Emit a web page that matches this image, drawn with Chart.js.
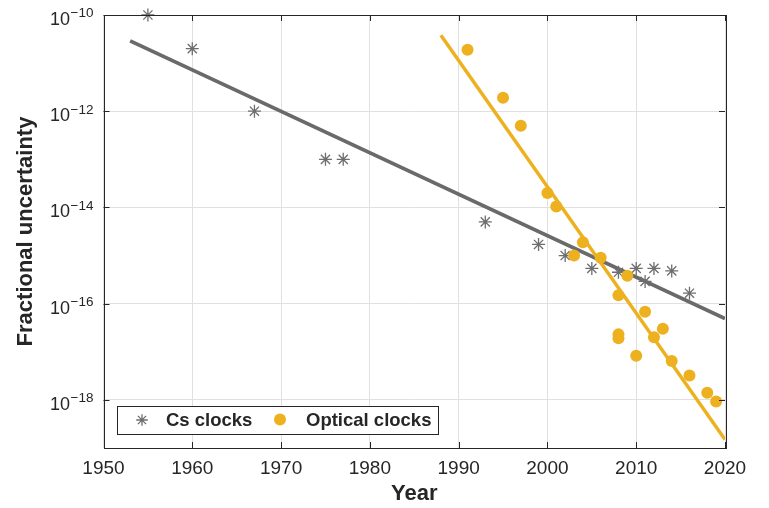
<!DOCTYPE html>
<html><head><meta charset="utf-8">
<script src="https://cdn.jsdelivr.net/npm/chart.js@4/dist/chart.umd.min.js"></script>
<style>html,body{margin:0;padding:0;background:#fff;}#wrap{width:769px;height:508px;}</style>
</head><body><div id="wrap"><canvas id="c" width="769" height="508"></canvas></div>
<script>
// ---- data ----
const csYears  = [1955, 1960, 1967, 1975, 1977, 1993, 1999, 2002, 2005, 2008, 2010, 2011, 2012, 2014, 2016];
const csValues = [1e-10, 2e-11, 1e-12, 1e-13, 1e-13, 5e-15, 1.7e-15, 1e-15, 5.4e-16, 4.5e-16, 5.4e-16, 2.9e-16, 5.4e-16, 4.8e-16, 1.65e-16];

const opticalYears  = [1991, 1995, 1997, 2000, 2001, 2003, 2004, 2006, 2008, 2008, 2008, 2009, 2010, 2011, 2012, 2013, 2014, 2016, 2018, 2019];
const opticalValues = [1.9e-11, 1.9e-12, 5e-13, 2e-14, 1.05e-14, 1e-15, 1.9e-15, 9e-16, 1.5e-16, 2.3e-17, 1.9e-17, 3.8e-16, 8.3e-18, 6.8e-17, 2e-17, 3e-17, 6.4e-18, 3.2e-18, 1.4e-18, 9.3e-19];

const csFitYears  = [1953, 2020];
const csFitValues = [2.9e-11, 4.9e-17];
const opticalFitYears  = [1988, 2020];
const opticalFitValues = [3.8e-11, 1.5e-19];

const seriesLabels = ['Cs clocks', 'Optical clocks'];
const yearTicks = [1950, 1960, 1970, 1980, 1990, 2000, 2010, 2020];
const yTickExponents = [-10, -12, -14, -16, -18];
const xTitle = 'Year';
const yTitle = 'Fractional uncertainty';

// ---- styling ----
const GRAY = '#6e6e6e';
const GRAYLINE = '#6a6a6a';
const YELLOW = '#EDB120';
const TEXT = '#262626';
const FONT = '"Liberation Sans", Arial, Helvetica, sans-serif';

const pts = (xs, ys) => xs.map((x, i) => ({x: x, y: ys[i]}));

const framePlugin = {
  id: 'frame',
  afterDraw(chart) {
    const ctx = chart.ctx, a = chart.chartArea;
    const xs = chart.scales.x, ys = chart.scales.y;
    ctx.save();
    // box
    ctx.strokeStyle = TEXT; ctx.lineWidth = 1;
    ctx.strokeRect(Math.round(a.left) + 0.5, Math.round(a.top) + 0.5, Math.round(a.right - a.left), Math.round(a.bottom - a.top));
    // inward ticks
    const tl = 6;
    ctx.beginPath();
    yearTicks.forEach(t => {
      const px = Math.round(xs.getPixelForValue(t)) + 0.5;
      ctx.moveTo(px, a.bottom); ctx.lineTo(px, a.bottom - tl);
      ctx.moveTo(px, a.top); ctx.lineTo(px, a.top + tl);
    });
    yTickExponents.forEach(e => {
      const py = Math.round(ys.getPixelForValue(Math.pow(10, e))) + 0.5;
      ctx.moveTo(a.left, py); ctx.lineTo(a.left + tl, py);
      ctx.moveTo(a.right, py); ctx.lineTo(a.right - tl, py);
    });
    ctx.stroke();
    // y tick labels: 10 with superscript exponent
    ctx.fillStyle = TEXT;
    ctx.textAlign = 'left'; ctx.textBaseline = 'alphabetic';
    yTickExponents.forEach(e => {
      const py = ys.getPixelForValue(Math.pow(10, e));
      const expText = '\u2212' + String(Math.abs(e));
      ctx.font = '13.5px ' + FONT;
      const ew = ctx.measureText(expText).width;
      ctx.font = '18px ' + FONT;
      const bw = ctx.measureText('10').width;
      const right = a.left - 10;
      ctx.fillText('10', right - ew - bw - 0.5, py + 10);
      ctx.font = '13.5px ' + FONT;
      ctx.fillText(expText, right - ew, py + 2.3);
    });
    // legend
    const lx = 117, ly = 406, lw = 321, lh = 28;
    ctx.fillStyle = '#ffffff';
    ctx.fillRect(lx, ly, lw, lh);
    ctx.strokeStyle = TEXT; ctx.lineWidth = 1;
    ctx.strokeRect(lx + 0.5, ly + 0.5, lw, lh);
    const cy = ly + lh / 2;
    // asterisk marker
    ctx.strokeStyle = GRAY; ctx.lineWidth = 1.3;
    ctx.beginPath();
    const r = 5.8, mx = 142;
    for (let k = 0; k < 4; k++) {
      const ang = k * Math.PI / 4;
      ctx.moveTo(mx - r * Math.cos(ang), cy - r * Math.sin(ang));
      ctx.lineTo(mx + r * Math.cos(ang), cy + r * Math.sin(ang));
    }
    ctx.stroke();
    // circle marker
    ctx.fillStyle = YELLOW;
    ctx.beginPath(); ctx.arc(280, cy - 0.5, 6, 0, Math.PI * 2); ctx.fill();
    ctx.fillStyle = TEXT;
    ctx.font = 'bold 18.5px ' + FONT;
    ctx.textBaseline = 'middle';
    ctx.fillText(seriesLabels[0], 166, cy + 1);
    ctx.fillText(seriesLabels[1], 306, cy + 1);
    ctx.restore();
  }
};

new Chart(document.getElementById('c'), {
  type: 'scatter',
  data: {
    datasets: [
      { type: 'line', label: 'Cs fit', data: pts(csFitYears, csFitValues), borderColor: GRAYLINE, borderWidth: 3.8, pointRadius: 0, fill: false, order: 4 },
      { label: seriesLabels[0], data: pts(csYears, csValues), pointStyle: 'star', pointRadius: 6.5, borderColor: GRAY, backgroundColor: GRAY, pointBorderWidth: 1.3, clip: false, order: 3 },
      { type: 'line', label: 'Optical fit', data: pts(opticalFitYears, opticalFitValues), borderColor: YELLOW, borderWidth: 3.5, pointRadius: 0, fill: false, order: 2 },
      { label: seriesLabels[1], data: pts(opticalYears, opticalValues), pointStyle: 'circle', pointRadius: 6, borderWidth: 0, pointBorderWidth: 0, backgroundColor: YELLOW, borderColor: YELLOW, clip: false, order: 1 }
    ]
  },
  options: {
    responsive: false,
    animation: false,
    devicePixelRatio: 1,
    layout: { padding: { left: 0, right: 44, top: 15, bottom: 0 } },
    plugins: { legend: { display: false }, tooltip: { enabled: false } },
    scales: {
      x: {
        type: 'linear', min: 1950, max: 2020,
        afterBuildTicks: s => { s.ticks = yearTicks.map(v => ({value: v})); },
        ticks: { color: TEXT, font: { family: FONT, size: 19 }, padding: 9, maxRotation: 0, autoSkip: false, callback: v => String(v) },
        grid: { color: '#e0e0e0', lineWidth: 1, drawTicks: false },
        border: { display: false },
        title: { display: true, text: xTitle, color: TEXT, font: { family: FONT, size: 22, weight: 'bold' }, padding: { top: 0, bottom: 1 } },
        afterFit: s => { s.height = 60; }
      },
      y: {
        type: 'logarithmic', min: 1e-19, max: 1e-10,
        afterBuildTicks: s => { s.ticks = yTickExponents.map(e => ({value: Math.pow(10, e)})); },
        ticks: { display: false },
        grid: { color: '#e0e0e0', lineWidth: 1, drawTicks: false },
        border: { display: false },
        title: { display: true, text: yTitle, color: TEXT, font: { family: FONT, size: 22, weight: 'bold' }, padding: { top: 13, bottom: 0 } },
        afterFit: s => { s.width = 103.5; }
      }
    }
  },
  plugins: [framePlugin]
});
</script>
</body></html>
